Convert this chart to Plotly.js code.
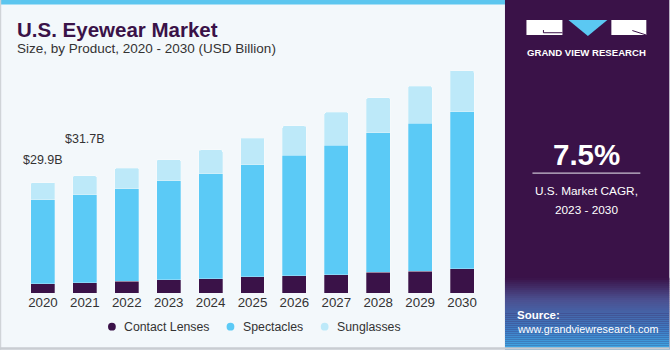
<!DOCTYPE html>
<html>
<head>
<meta charset="utf-8">
<script src="https://cdn.plot.ly/plotly-3.0.1.min.js"></script>
<style>
html,body{margin:0;padding:0;background:#f3f8fb;}
#chart{width:670px;height:350px;}
</style>
</head>
<body>
<div id="chart"></div>
<script>
// ---- data ----
var years = ['2020','2021','2022','2023','2024','2025','2026','2027','2028','2029','2030'];
var contactLenses = [2.5, 2.8, 3.2, 3.6, 3.9, 4.4, 4.7, 4.9, 5.6, 5.9, 6.6];
var spectacles    = [22.7, 23.8, 25.0, 26.8, 28.4, 30.3, 32.6, 35.1, 37.8, 40.1, 42.4];
var sunglasses    = [4.7, 5.1, 5.6, 5.7, 6.4, 7.2, 7.9, 8.9, 9.4, 10.0, 11.2];
var seriesNames = ['Contact Lenses', 'Spectacles', 'Sunglasses'];
var labelYears = ['2020', '2021'];
var labelTexts = ['$29.9B', '$31.7B'];
var cagrText = '7.5%';

// ---- layout geometry (pixels) ----
var W = 670, H = 350;
var ML = 22, PW = 461.5, PT = 60, BASE = 293.3;
var PH = BASE - PT;
var MR = W - ML - PW, MB = H - BASE;
var YMAX = PH / 3.7;
function PX(x){ return (x - ML) / PW; }
function PY(y){ return (BASE - y) / PH; }

var cols = ['#3a1248', '#5bcaf6', '#bde9f9'];
var F = '"Liberation Sans", Arial, sans-serif';

var traces = [contactLenses, spectacles, sunglasses].map(function(v, i){
  return {
    type: 'bar', x: years, y: v, name: seriesNames[i],
    marker: {color: cols[i], line: {color: 'rgba(255,255,255,0.35)', width: 0.8}},
    showlegend: false, hoverinfo: 'x+y+name'
  };
});

var totals = years.map(function(_, i){ return contactLenses[i] + spectacles[i] + sunglasses[i]; });

var shapes = [];
var annotations = [];

// top stripe
shapes.push({type:'rect', xref:'paper', yref:'paper', x0:PX(0), x1:PX(505.5), y0:PY(0), y1:PY(4.5), fillcolor:'#5cc6ef', line:{width:0}, layer:'below'});
// left border
shapes.push({type:'rect', xref:'paper', yref:'paper', x0:PX(0), x1:PX(1.2), y0:PY(0), y1:PY(350), fillcolor:'#cfd3d8', line:{width:0}, layer:'below'});
// right panel
shapes.push({type:'rect', xref:'paper', yref:'paper', x0:PX(505.5), x1:PX(670), y0:PY(0), y1:PY(350), fillcolor:'#3a1248', line:{width:0}, layer:'below'});
// gradient at bottom of panel
var stops = [[278,[58,18,72]],[300,[75,80,144]],[330,[62,124,196]],[349,[64,170,230]]];
function colAt(y){
  for (var k=0;k<stops.length-1;k++){
    if (y>=stops[k][0] && y<=stops[k+1][0]){
      var t=(y-stops[k][0])/(stops[k+1][0]-stops[k][0]);
      var a=stops[k][1], b=stops[k+1][1];
      return 'rgb('+Math.round(a[0]+(b[0]-a[0])*t)+','+Math.round(a[1]+(b[1]-a[1])*t)+','+Math.round(a[2]+(b[2]-a[2])*t)+')';
    }
  }
  return 'rgb(64,170,230)';
}
for (var y=278; y<349; y+=2){
  shapes.push({type:'rect', xref:'paper', yref:'paper', x0:PX(505.5), x1:PX(670), y0:PY(y), y1:PY(y+2.2), fillcolor:colAt(y+1), line:{width:0}, layer:'below'});
}
// bottom border
shapes.push({type:'rect', xref:'paper', yref:'paper', x0:PX(0), x1:PX(670), y0:PY(347.6), y1:PY(350), fillcolor:'#c9cdd2', line:{width:0}, layer:'below'});

// logo
shapes.push({type:'rect', xref:'paper', yref:'paper', x0:PX(527), x1:PX(563), y0:PY(20), y1:PY(35), fillcolor:'#ffffff', line:{width:0}});
shapes.push({type:'path', xref:'paper', yref:'paper', path:'M '+PX(544)+' '+PY(30)+' L '+PX(544)+' '+PY(32.7)+' L '+PX(563)+' '+PY(32.7), line:{color:'#3a1248', width:1}});
shapes.push({type:'path', xref:'paper', yref:'paper', path:'M '+PX(569)+' '+PY(20)+' L '+PX(608)+' '+PY(20)+' L '+PX(588.5)+' '+PY(36)+' Z', fillcolor:'#5bc8f2', line:{width:0}});
shapes.push({type:'rect', xref:'paper', yref:'paper', x0:PX(612), x1:PX(647), y0:PY(20), y1:PY(35), fillcolor:'#ffffff', line:{width:0}});
shapes.push({type:'path', xref:'paper', yref:'paper', path:'M '+PX(633)+' '+PY(30.5)+' L '+PX(647)+' '+PY(35), line:{color:'#3a1248', width:1}});
annotations.push({xref:'paper', yref:'paper', x:PX(587), y:PY(52.5), text:'<b>GRAND VIEW RESEARCH</b>', showarrow:false, xanchor:'center', yanchor:'middle', font:{family:F, size:9.6, color:'#ffffff'}});

// CAGR block
annotations.push({xref:'paper', yref:'paper', x:PX(587), y:PY(155), text:'<b>'+cagrText+'</b>', showarrow:false, xanchor:'center', yanchor:'middle', font:{family:F, size:29.5, color:'#ffffff'}});
shapes.push({type:'line', xref:'paper', yref:'paper', x0:PX(533), x1:PX(641), y0:PY(173.3), y1:PY(173.3), line:{color:'#c9c0d0', width:1.2}});
annotations.push({xref:'paper', yref:'paper', x:PX(587.5), y:PY(191), text:'U.S. Market CAGR,', showarrow:false, xanchor:'center', yanchor:'middle', font:{family:F, size:11.8, color:'#ffffff'}});
annotations.push({xref:'paper', yref:'paper', x:PX(587.5), y:PY(210), text:'2023 - 2030', showarrow:false, xanchor:'center', yanchor:'middle', font:{family:F, size:11.8, color:'#ffffff'}});

// source
annotations.push({xref:'paper', yref:'paper', x:PX(516), y:PY(315.7), text:'<b>Source:</b>', showarrow:false, xanchor:'left', yanchor:'middle', font:{family:F, size:11.5, color:'#ffffff'}});
annotations.push({xref:'paper', yref:'paper', x:PX(516), y:PY(329.5), text:'www.grandviewresearch.com', showarrow:false, xanchor:'left', yanchor:'middle', font:{family:F, size:10.8, color:'#ffffff'}});

// title & subtitle
annotations.push({xref:'paper', yref:'paper', x:PX(15), y:PY(29), text:'<b>U.S. Eyewear Market</b>', showarrow:false, xanchor:'left', yanchor:'middle', font:{family:F, size:20.5, color:'#3a1248'}});
annotations.push({xref:'paper', yref:'paper', x:PX(15), y:PY(48), text:'Size, by Product, 2020 - 2030 (USD Billion)', showarrow:false, xanchor:'left', yanchor:'middle', font:{family:F, size:13.5, color:'#333333'}});

// value labels
labelYears.forEach(function(yr, k){
  var i = years.indexOf(yr);
  annotations.push({x: i, y: totals[i], xref:'x', yref:'y', text: labelTexts[k], showarrow:false, xanchor:'center', yanchor:'middle', yshift: (k===0?22.5:36.5), font:{family:F, size:12.5, color:'#333333'}});
});

// legend (manual, circle markers)
var legX = [112, 230.7, 325];
seriesNames.forEach(function(n, i){
  shapes.push({type:'circle', xref:'paper', yref:'paper', x0:PX(legX[i]-3.9), x1:PX(legX[i]+3.9), y0:PY(327-3.9), y1:PY(327+3.9), fillcolor:cols[i], line:{width:0}});
  annotations.push({xref:'paper', yref:'paper', x:PX(legX[i]+10.5), y:PY(327), text:n, showarrow:false, xanchor:'left', yanchor:'middle', font:{family:F, size:12.3, color:'#333333'}});
});

var layout = {
  width: W, height: H,
  margin: {l: ML, r: MR, t: PT, b: MB, pad: 0},
  paper_bgcolor: '#f3f8fb', plot_bgcolor: 'rgba(0,0,0,0)',
  barmode: 'stack', bargap: 0.428, barcornerradius: 2,
  showlegend: false,
  xaxis: {type:'category', range:[-0.5, 10.5], showgrid:false, zeroline:false, showline:false, ticks:'', tickfont:{family:F, size:13.3, color:'#333333'}, fixedrange:true},
  yaxis: {range:[0, YMAX], visible:false, fixedrange:true},
  shapes: shapes,
  annotations: annotations,
  font: {family: F}
};

Plotly.newPlot('chart', traces, layout, {displayModeBar:false, staticPlot:true});
</script>
</body>
</html>
